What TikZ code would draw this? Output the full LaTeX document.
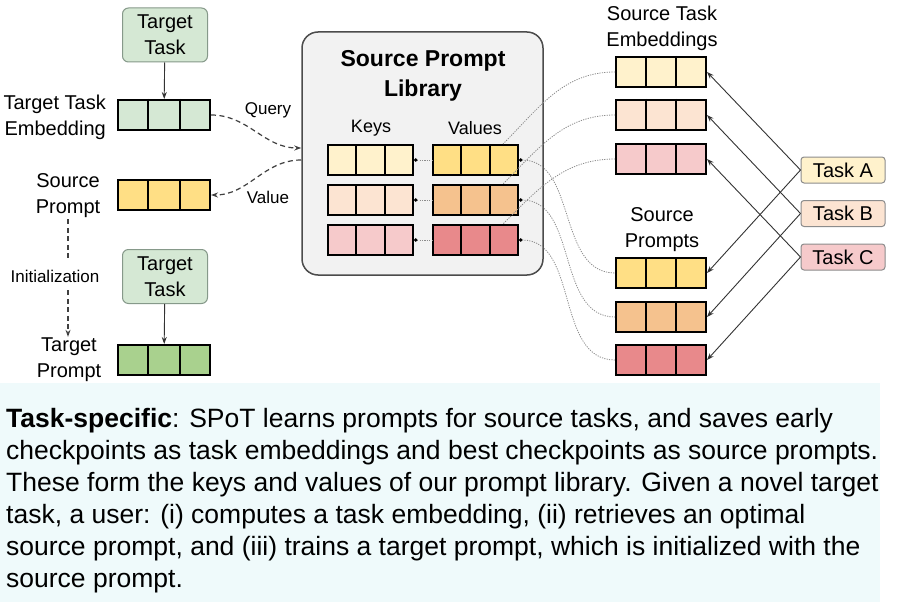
\documentclass[tikz,border=0pt]{standalone}
\usepackage{fontspec}
\setmainfont{Liberation Sans}
\usetikzlibrary{arrows.meta, positioning, calc}

\definecolor{tgreen}{HTML}{D5E8D4}
\definecolor{tgreenDark}{HTML}{A9D18E}
\definecolor{tgreenEdge}{HTML}{86998A}
\definecolor{yellowLight}{HTML}{FFF2CC}
\definecolor{yellowMid}{HTML}{FFDF85}
\definecolor{peachLight}{HTML}{FCE4D2}
\definecolor{peachMid}{HTML}{F5C28E}
\definecolor{pinkLight}{HTML}{F6CACB}
\definecolor{pinkMid}{HTML}{E8898B}
\definecolor{libFill}{HTML}{F2F2F2}
\definecolor{captionBg}{HTML}{EFFAFB}

\begin{document}
\begin{tikzpicture}[
    x=1pt, y=-1pt,
    every node/.style={font=\fontsize{20}{26}\selectfont},
    cellrow/.style={draw=black, line width=2pt, minimum width=90pt, minimum height=30pt, inner sep=0pt},
    librow/.style={cellrow, minimum width=85pt},
    taskbox/.style={rectangle, rounded corners=6pt, draw=tgreenEdge, line width=1pt, fill=tgreen, minimum width=85pt, minimum height=54pt, align=center, inner sep=2pt},
    srcbox/.style={rectangle, rounded corners=3pt, draw=black!45, line width=1pt, minimum width=84pt, minimum height=26pt, inner sep=2pt},
    library/.style={rectangle, rounded corners=16pt, draw=black!70, line width=1.5pt, fill=libFill, minimum width=241pt, minimum height=243pt},
    lbl/.style={align=center, inner sep=1pt},
    smalltxt/.style={font=\fontsize{17}{20}\selectfont, inner sep=1pt},
    arrow/.style={-{Stealth[length=7pt,width=5pt]}, line width=0.9pt, black!80},
    dashline/.style={line width=1.2pt, black!75, dash pattern=on 5pt off 3.5pt},
    dotline/.style={black!45, line width=0.8pt, dash pattern=on 1.2pt off 1.2pt},
    dot/.style={{Circle[length=3.5pt, black]}-}
]

% Background
\fill[white] (0,0) rectangle (911,602);
\fill[captionBg] (0,383) rectangle (880,602);
\useasboundingbox (0,0) rectangle (911,602);

% Source prompt library
\node[library] (lib) at (422.5,153.5) {};
\node[font=\bfseries\fontsize{23}{30}\selectfont, align=center] (libtitle) at (423,76) {Source Prompt\\Library};
\node[font=\fontsize{18}{20}\selectfont] (keys) at (371,128) {Keys};
\node[font=\fontsize{18}{20}\selectfont] (values) at (475,128) {Values};

\node[librow, fill=yellowLight] (k1) at (370.5,160) {};
\node[librow, fill=peachLight] (k2) at (370.5,200) {};
\node[librow, fill=pinkLight] (k3) at (370.5,240) {};
\node[librow, fill=yellowMid] (v1) at (475.5,160) {};
\node[librow, fill=peachMid] (v2) at (475.5,200) {};
\node[librow, fill=pinkMid] (v3) at (475.5,240) {};

% Target side
\node[taskbox] (tt1) at (165,35) {Target\\Task};
\node[cellrow, minimum width=92pt, fill=tgreen] (tte) at (164,115) {};
\node[cellrow, minimum width=92pt, fill=yellowMid] (sp) at (164,195) {};
\node[taskbox] (tt2) at (165,276.5) {Target\\Task};
\node[cellrow, minimum width=92pt, fill=tgreenDark] (tp) at (164,360) {};

\node[lbl, align=right, anchor=east] (ttelbl) at (107,117) {Target Task\\Embedding};
\node[lbl] (splbl) at (68,196) {Source\\Prompt};
\node[smalltxt, inner ysep=8pt] (initlbl) at (55,276) {Initialization};
\node[lbl] (tplbl) at (69,360) {Target\\Prompt};
\node[smalltxt] (query) at (268,110) {Query};
\node[smalltxt] (value) at (268,197) {Value};

% Source side
\node[lbl] (embhead) at (662,28) {Source Task\\Embeddings};
\node[cellrow, fill=yellowLight] (e1) at (661,72) {};
\node[cellrow, fill=peachLight] (e2) at (661,115) {};
\node[cellrow, fill=pinkLight] (e3) at (661,159) {};
\node[lbl] (prhead) at (662,230) {Source\\Prompts};
\node[cellrow, fill=yellowMid] (p1) at (661,273) {};
\node[cellrow, fill=peachMid] (p2) at (661,317) {};
\node[cellrow, fill=pinkMid] (p3) at (661,360) {};

\node[srcbox, fill=yellowLight] (ta) at (843,170) {Task A};
\node[srcbox, fill=peachLight] (tb) at (843,213.5) {Task B};
\node[srcbox, fill=pinkLight] (tc) at (843,257) {Task C};

% Cell dividers
\foreach \r in {tte,sp,tp,k1,k2,k3,v1,v2,v3,e1,e2,e3,p1,p2,p3}
    \foreach \k in {1,2}
        \draw[line width=2pt] ($(\r.north west)!\k/3!(\r.north east)$) -- ($(\r.south west)!\k/3!(\r.south east)$);

% Target flow
\draw[arrow] (tt1) -- (tte);
\draw[arrow] (tt2) -- (tp);
\draw[dashline, -{Stealth[length=7pt,width=5pt]}] (tte.east) to[out=0, in=180] ([yshift=5.5pt]lib.west);
\draw[dashline, -{Stealth[length=7pt,width=5pt]}] ([yshift=-6.5pt]lib.west) to[out=180, in=0] (sp.east);
\draw[dashline] (splbl.south) -- (splbl.south |- initlbl.north);
\draw[dashline, -{Stealth[length=7pt,width=5pt]}] (splbl.south |- initlbl.south) -- (splbl.south |- tplbl.north);

% Library links
\foreach \i in {1,2,3} {
    \draw[dotline, dot] (k\i.east) -- (v\i.west);
    \draw[dotline, dot] (v\i.east) to[out=0, in=180] (p\i.west);
    \draw[dotline] (e\i.west) to[out=180, in=45] ([xshift=-16pt]v\i.north east);
}

% Tasks to embeddings and prompts
\foreach \t/\e/\p in {ta/e1/p1, tb/e2/p2, tc/e3/p3} {
    \draw[arrow] (\t.west) -- (\e.east);
    \draw[arrow] (\t.west) -- (\p.east);
}

% Caption
\node[anchor=north west, inner sep=0pt, align=left, font=\fontsize{26.5}{32}\selectfont] (caption) at (6,408)
    {\textbf{Task-specific}: SPoT learns prompts for source tasks, and saves early\\
     checkpoints as task embeddings and best checkpoints as source prompts.\\
     These form the keys and values of our prompt library. Given a novel target\\
     task, a user: (i) computes a task embedding, (ii) retrieves an optimal\\
     source prompt, and (iii) trains a target prompt, which is initialized with the\\
     source prompt.};

\end{tikzpicture}
\end{document}
